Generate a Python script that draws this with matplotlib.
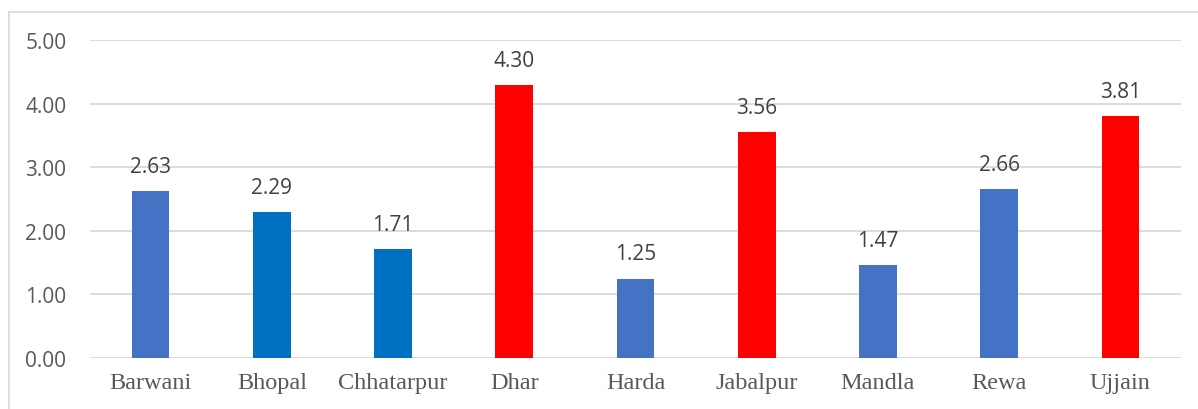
import matplotlib

matplotlib.use("Agg")
import matplotlib.pyplot as plt
from matplotlib.lines import Line2D

# data
districts = ["Barwani", "Bhopal", "Chhatarpur", "Dhar", "Harda",
             "Jabalpur", "Mandla", "Rewa", "Ujjain"]
values = [2.63, 2.29, 1.71, 4.30, 1.25, 3.56, 1.47, 2.66, 3.81]
bar_colors = ["#4472C4", "#0070C0", "#0070C0", "#FF0000", "#4472C4",
              "#FF0000", "#4472C4", "#4472C4", "#FF0000"]
yticks = [0, 1, 2, 3, 4, 5]

W, H = 1198, 410
fig = plt.figure(figsize=(W / 100, H / 100), dpi=100)
ax = fig.add_axes([90 / W, 1 - 359 / H, (1181 - 90) / W, (359 - 41) / H])

x = range(len(districts))
bars = ax.bar(x, values, width=0.31, color=bar_colors, zorder=3)

for xi, v in zip(x, values):
    ax.annotate(f"{v:.2f}", (xi, v), xytext=(0, 14), textcoords="offset pixels",
                ha="center", va="bottom", fontsize=15, color="#404040",
                family="Open Sans")

ax.set_xlim(-0.5, len(districts) - 0.5)
ax.set_ylim(0, 5)
ax.set_yticks(yticks)
ax.set_yticklabels([f"{t:.2f}" for t in yticks], family="Open Sans",
                   fontsize=15, color="#595959")
ax.set_xticks(list(x))
ax.set_xticklabels(districts, family="Liberation Serif", fontsize=17.5,
                   color="#595959")
ax.tick_params(length=0)
ax.tick_params(axis="y", pad=17)
ax.tick_params(axis="x", pad=10)
ax.grid(axis="y", color="#D9D9D9", linewidth=1.3, zorder=0)
for s in ax.spines.values():
    s.set_visible(False)

# chart-area border (only left and top edges visible in the crop)
fx, fy = 8.5 / W, 1 - 12.5 / H
fig.add_artist(Line2D([fx, fx], [0, fy], color="#D9D9D9", lw=1.2,
                      transform=fig.transFigure))
fig.add_artist(Line2D([fx, 1], [fy, fy], color="#D9D9D9", lw=1.2,
                      transform=fig.transFigure))

fig.savefig("out.png", dpi=100)
